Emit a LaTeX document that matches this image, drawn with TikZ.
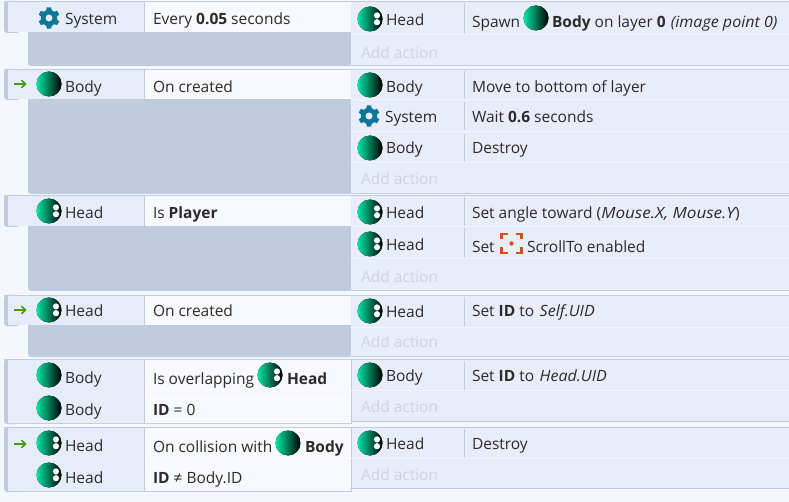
\documentclass[tikz,border=0pt]{standalone}
\usepackage{fontspec}
\setmainfont[ItalicFeatures={FakeStretch=1.035}]{Open Sans}
\newfontfamily\mousefam[FakeStretch=1.1]{Open Sans Italic}
\definecolor{pagebg}{HTML}{F5F7FE}
\definecolor{condbg}{HTML}{F7F9FF}
\definecolor{objbg}{HTML}{E6EDF9}
\definecolor{greybg}{HTML}{BFCBDE}
\definecolor{actbg}{HTML}{E8EDF9}
\definecolor{edge}{HTML}{C0CDE2}
\definecolor{sep}{HTML}{F2F5FC}
\definecolor{ink}{HTML}{2B2B2B}
\definecolor{addc}{HTML}{CBD5E8}
\definecolor{teal1}{HTML}{0F7896}
\definecolor{mint}{HTML}{00E6A5}
\definecolor{arrowg}{HTML}{4C9A12}
\definecolor{scroll}{HTML}{D4501A}
\tikzset{
  x=1pt,y=-1pt,
  lbl/.style={anchor=base west,inner sep=0pt,outer sep=0pt,text=ink,yshift=-0.4pt,font=\fontsize{15.5}{18}\selectfont},
  addlbl/.style={lbl,text=addc},
  ball/.style={left color=mint,right color=black,draw=none},
}
\newcommand{\bodyicon}[2]{\fill[ball] (#1,#2) circle[radius=12.5];}
\newcommand{\headicon}[2]{\fill[ball] (#1,#2) circle[radius=12.5];
  \fill[white] (#1+7,#2-3.6) circle[radius=3.1];
  \fill[white] (#1+7,#2+3.2) circle[radius=3.1];}
\newcommand{\gearicon}[2]{\begin{scope}[shift={(#1,#2)}]
  \foreach \a in {0,60,...,300}{\fill[teal1,rotate=\a] (-2.8,-7) -- (2.8,-7) -- (2.2,-10.6) -- (-2.2,-10.6) -- cycle;}
  \fill[teal1,even odd rule] (0,0) circle[radius=8.2] (0,0) circle[radius=3.6];
  \end{scope}}
\newcommand{\arrowicon}[1]{\draw[arrowg,line width=1.6pt] (14,#1) -- (25,#1);
  \draw[arrowg,line width=1.6pt] (21.5,#1-3.8) -- (25.5,#1) -- (21.5,#1+3.8);}
\newcommand{\block}[3]{
  \fill[greybg,rounded corners=3pt] (28,#2-5) rectangle (352,#3);
  \fill[greybg,rounded corners=3pt] (4,#1) rectangle (20,#2);
  \fill[objbg] (8,#1+1) rectangle (144,#2-1);
  \fill[condbg] (145,#1+1) rectangle (351,#2-1);
  \draw[edge,line width=1pt] (144.5,#1+1) -- (144.5,#2-1);
  \draw[edge,line width=1pt] (4,#1+.5) -- (351,#1+.5);
  \fill[actbg] (351,#1) rectangle (789,#3);
  \draw[edge,line width=1pt] (351,#1+.5) -- (789,#1+.5);
  \draw[edge,line width=1pt] (351,#3-.5) -- (789,#3-.5);
}
\newcommand{\vsep}[2]{\draw[edge,line width=1pt] (464.5,#1) -- (464.5,#2);}
\newcommand{\hsep}[1]{\draw[sep,line width=1pt] (351,#1) -- (789,#1);}
\begin{document}
\begin{tikzpicture}
\useasboundingbox (0,0) rectangle (789,502);
\fill[pagebg] (0,0) rectangle (789,502);
% Block 1
\block{1}{33}{66}
\gearicon{49}{18}
\node[lbl] (s1) at (65,24) {System};
\node[lbl] (c1) at (153,24) {Every \textbf{0.05} seconds};
\vsep{3}{34}\hsep{35}
\headicon{370}{19}
\node[lbl] (a1a) at (386,25) {Head};
\node[lbl] (a1b) at (472,27) {Spawn};
\bodyicon{536}{18}
\node[lbl] (a1c) at (552,27) {\textbf{Body} on layer \textbf{0} \hspace{1pt}\textit{(image point 0)}};
\node[addlbl] (add1) at (361,58) {Add action};
% Block 2
\block{69}{100}{194}
\arrowicon{84}
\bodyicon{49}{84}
\node[lbl] (s2) at (65,92) {Body};
\node[lbl] (c2) at (153,92) {On created};
\vsep{71}{100}\hsep{100}\vsep{102}{130}\hsep{132}\vsep{134}{162}\hsep{163}
\bodyicon{370}{85}
\node[lbl] (a2a) at (386,92) {Body};
\node[lbl] (a2b) at (472,92) {Move to bottom of layer};
\gearicon{369}{116}
\node[lbl] (a2c) at (385,122) {System};
\node[lbl] (a2d) at (472,122) {Wait \textbf{0.6} seconds};
\bodyicon{370}{148}
\node[lbl] (a2e) at (386,153) {Body};
\node[lbl] (a2f) at (472,153) {Destroy};
\node[addlbl] (add2) at (361,184) {Add action};
% Block 3
\block{195}{227}{291}
\headicon{49}{211}
\node[lbl] (s3) at (65,218) {Head};
\node[lbl] (c3) at (153,218) {Is \textbf{Player}};
\vsep{197}{226}\hsep{227}\vsep{228}{258}\hsep{259}
\headicon{370}{212}
\node[lbl] (a3a) at (386,218) {Head};
\node[lbl] (a3b) at (472,218) {Set angle toward ({\mousefam Mouse.X, Mouse.Y})};
\headicon{370}{244}
\node[lbl] (a3c) at (386,250) {Head};
\node[lbl] (a3d) at (472,252) {Set};
\begin{scope}[shift={(511.5,243.5)}]
  \draw[scroll,line width=2.2pt] (-10,-4) -- (-10,-9.5) -- (-4,-9.5) (4,-9.5) -- (10,-9.5) -- (10,-4) (10,4) -- (10,9.5) -- (4,9.5) (-4,9.5) -- (-10,9.5) -- (-10,4);
  \fill[scroll] (0,0) circle[radius=2.2];
\end{scope}
\node[lbl] (a3e) at (527,252) {ScrollTo enabled};
\node[addlbl] (add3) at (361,282) {Add action};
% Block 4
\block{295}{326}{357}
\arrowicon{310}
\headicon{49}{310}
\node[lbl] (s4) at (65,316.5) {Head};
\node[lbl] (c4) at (153,316.5) {On created};
\vsep{297}{326}\hsep{327}
\headicon{370}{311}
\node[lbl] (a4a) at (386,317) {Head};
\node[lbl] (a4b) at (472,316.5) {Set \textbf{ID} to \hspace{1.5pt}\textit{Self.UID}};
\node[addlbl] (add4) at (361,347) {Add action};
% Block 5
\fill[greybg,rounded corners=3pt] (4,359) rectangle (20,424);
\fill[objbg] (8,360) rectangle (144,423);
\fill[condbg] (145,360) rectangle (351,424);
\draw[edge,line width=1pt] (144.5,360) -- (144.5,423);
\draw[sep,line width=1pt] (145,392.5) -- (351,392.5);
\draw[edge,line width=1pt] (4,359.5) -- (351,359.5) -- (351,423.5) -- (8,423.5);
\fill[actbg] (351.5,360) rectangle (789,421);
\draw[edge,line width=1pt] (351,359.5) -- (789,359.5) (351,421.5) -- (789,421.5);
\vsep{361}{390}\hsep{390}
\bodyicon{49}{375}
\node[lbl] (s5) at (65,383) {Body};
\node[lbl] (c5) at (153,384) {Is overlapping};
\headicon{270}{375}
\node[lbl] (c5b) at (287,384) {\textbf{Head}};
\bodyicon{49}{408}
\node[lbl] (s5b) at (65,415) {Body};
\node[lbl] (c5c) at (153,415) {\textbf{ID} = 0};
\bodyicon{370}{375}
\node[lbl] (a5a) at (386,381) {Body};
\node[lbl] (a5b) at (472,381) {Set \textbf{ID} to \hspace{1.5pt}\textit{Head.UID}};
\node[addlbl] (add5) at (361,412) {Add action};
% Block 6
\fill[greybg,rounded corners=3pt] (4,427) rectangle (20,492);
\fill[objbg] (8,428) rectangle (144,491);
\fill[condbg] (145,428) rectangle (351,492);
\draw[edge,line width=1pt] (144.5,428) -- (144.5,491);
\draw[sep,line width=1pt] (145,460.5) -- (351,460.5);
\draw[edge,line width=1pt] (4,427.5) -- (351,427.5) -- (351,491.5) -- (8,491.5);
\fill[actbg] (351.5,428) rectangle (789,488);
\draw[edge,line width=1pt] (351,427.5) -- (789,427.5) (351,488.5) -- (789,488.5);
\vsep{429}{458}\hsep{458}
\arrowicon{444}
\headicon{49}{443}
\node[lbl] (s6) at (65,451) {Head};
\node[lbl] (c6) at (153,452) {On collision with};
\bodyicon{288}{443}
\node[lbl] (c6b) at (305,452) {\textbf{Body}};
\headicon{49}{475}
\node[lbl] (s6b) at (65,483) {Head};
\node[lbl] (c6c) at (153,483) {\textbf{ID} ≠ Body.ID};
\headicon{370}{443}
\node[lbl] (a6a) at (386,449) {Head};
\node[lbl] (a6b) at (472,449) {Destroy};
\node[addlbl] (add6) at (361,480) {Add action};
\end{tikzpicture}
\end{document}
